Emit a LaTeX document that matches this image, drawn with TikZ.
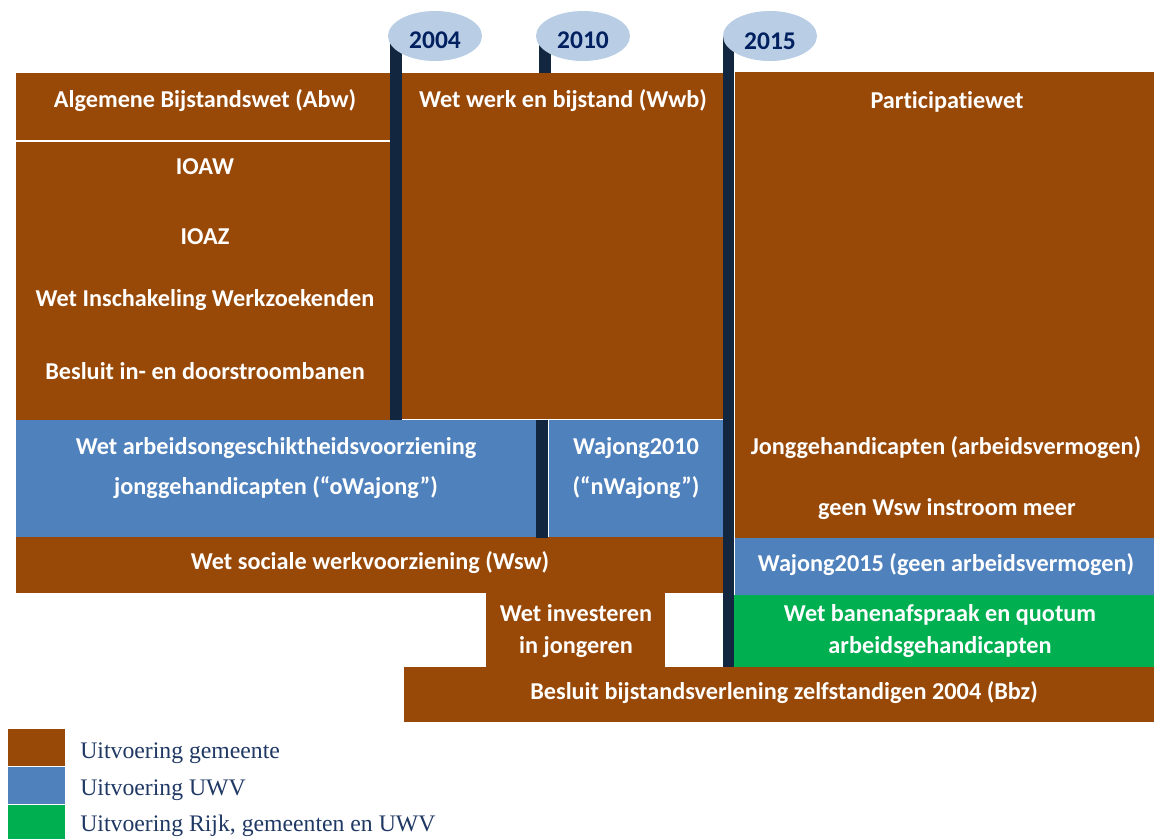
\documentclass[tikz,border=0pt]{standalone}
\usepackage{fontspec}
\setmainfont{Carlito}[Ligatures=NoCommon]
\newfontfamily\legendfont{Liberation Serif}
\usepackage{tikz}
\usetikzlibrary{shapes,positioning}
\definecolor{gembrown}{RGB}{152,72,7}
\definecolor{uwvblue}{RGB}{79,129,189}
\definecolor{rijkgreen}{RGB}{0,176,80}
\definecolor{barnavy}{RGB}{18,38,64}
\definecolor{yearfill}{RGB}{185,205,229}
\definecolor{yeartext}{RGB}{0,32,96}
\definecolor{legtext}{RGB}{31,56,100}

\begin{document}
\begin{tikzpicture}[
	x=0.02cm, y=-0.02cm,
	gem/.style={fill=gembrown},
	uwv/.style={fill=uwvblue},
	rijk/.style={fill=rijkgreen},
	bar/.style={fill=barnavy},
	lbl/.style={text=white, font=\fontsize{13.8}{18}\selectfont\bfseries, align=center, inner sep=0pt},
	year/.style={ellipse, fill=yearfill, minimum width=1.88cm, minimum height=1cm,
		text=yeartext, font=\fontsize{14.5}{16}\selectfont\bfseries, inner sep=0pt,
		text height=14.2pt, text depth=0pt},
	legbox/.style={minimum width=1.14cm, minimum height=0.74cm, inner sep=0pt},
	legtxt/.style={anchor=west, text=legtext, font=\fontsize{13.5}{15}\selectfont\legendfont, inner sep=0pt}
]
\useasboundingbox (0,0) rectangle (1154,839);
\fill[gem] (16,73) rectangle (392,140);
\fill[gem] (16,142) rectangle (392,420);
\fill[gem] (402,73) rectangle (724,419);
\fill[gem] (735,72) rectangle (1154,537.5);
\fill[uwv] (16,420) rectangle (536,537);
\fill[uwv] (549,420) rectangle (724,537);
\fill[gem] (16,537) rectangle (724,593);
\fill[uwv] (735,537.5) rectangle (1154,595);
\fill[rijk] (731,595) rectangle (1154,667);
\fill[gem] (486,593) rectangle (665,667);
\fill[gem] (404,667) rectangle (1154,722);
\fill[bar] (390,36) rectangle (402,420);
\fill[bar] (539,36) rectangle (551,73);
\fill[bar] (536,420) rectangle (548,538);
\fill[bar] (723,36) rectangle (734,667);
\node[year] (y2004) at (435,36) {2004};
\node[year] (y2010) at (583,36) {2010};
\node[year, text height=15.8pt] (y2015) at (770,36) {2015};
\node[lbl] (abw) at (205,101) {Algemene Bijstandswet (Abw)};
\node[lbl] (ioaw) at (205,167) {IOAW};
\node[lbl] (ioaz) at (205,237) {IOAZ};
\node[lbl] (wiw) at (205,300) {Wet Inschakeling Werkzoekenden};
\node[lbl] (bid) at (205,371) {Besluit in- en doorstroombanen};
\node[lbl] (wwb) at (563,101) {Wet werk en bijstand (Wwb)};
\node[lbl] (pw) at (947,102) {Participatiewet};
\node[lbl] (owaj) at (276,468) {Wet arbeidsongeschiktheidsvoorziening\\[4.7pt] jonggehandicapten (“oWajong”)};
\node[lbl] (nwaj) at (636,468) {Wajong2010\\[4.7pt] (“nWajong”)};
\node[lbl] (jgh) at (946,448) {Jonggehandicapten (arbeidsvermogen)};
\node[lbl] (gwsw) at (947,509) {geen Wsw instroom meer};
\node[lbl] (wsw) at (370,563) {Wet sociale werkvoorziening (Wsw)};
\node[lbl] (waj15) at (946,565) {Wajong2015 (geen arbeidsvermogen)};
\node[lbl] (wbq) at (940,631) {Wet banenafspraak en quotum\\ arbeidsgehandicapten};
\node[lbl] (wij) at (576,631) {Wet investeren\\ in jongeren};
\node[lbl] (bbz) at (784,693) {Besluit bijstandsverlening zelfstandigen 2004 (Bbz)};
\node[legbox, gem, anchor=north west] (lgem) at (8,729) {};
\node[legbox, uwv, below=0pt of lgem] (luwv) {};
\node[legbox, rijk, below=0pt of luwv] (lrijk) {};
\node[legtxt] (tgem) at (80,753) {Uitvoering gemeente};
\node[legtxt] (tuwv) at (80,790) {Uitvoering UWV};
\node[legtxt] (trijk) at (80,826) {Uitvoering Rijk, gemeenten en UWV};
\end{tikzpicture}
\end{document}
